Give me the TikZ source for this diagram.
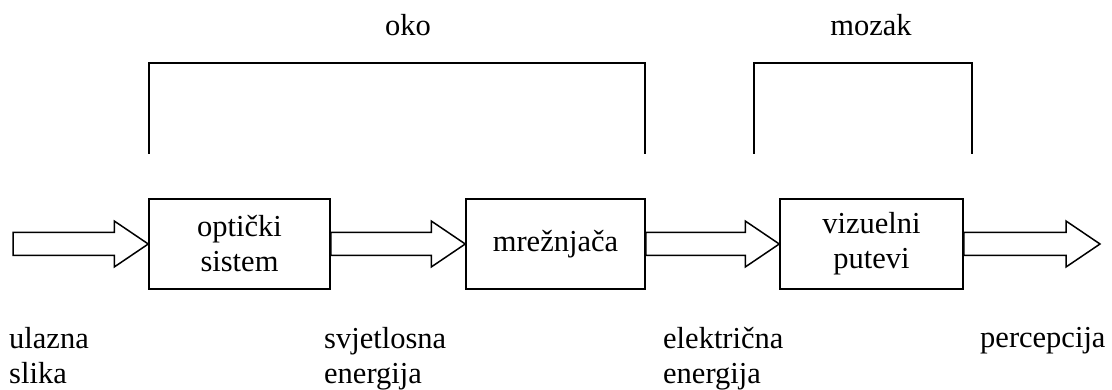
\documentclass[tikz,border=0pt]{standalone}
\usepackage{fontspec}
\setmainfont{Liberation Serif}
\usetikzlibrary{calc}
\tikzset{
  blok/.style={draw,line width=1.5pt,inner sep=0pt,align=center,minimum height=90pt},
  oznaka/.style={inner sep=0pt,align=left,anchor=base west}
}
% debela strelica od #1 do #2
\newcommand\strelica[2]{%
  \draw[line width=1.5pt,line join=miter] let \p1=(#1), \p2=(#2) in
    (\x1,\y1+11.5pt) -- (\x2-34pt,\y1+11.5pt) -- (\x2-34pt,\y1+23pt) -- (\x2,\y1)
    -- (\x2-34pt,\y1-23pt) -- (\x2-34pt,\y1-11.5pt) -- (\x1,\y1-11.5pt) -- cycle;}
\begin{document}
\begin{tikzpicture}[x=1pt,y=-1pt,font=\fontsize{30.5pt}{35pt}\selectfont]
  \useasboundingbox (0,0) rectangle (1112,390);
  % blokovi
  \node[blok,minimum width=181pt] (opt) at (239.5,244) {optički\\sistem};
  \node[blok,minimum width=179pt] (mrez) at (555.5,244) {mrežnjača};
  \node[blok,minimum width=183pt] (viz) at (871.5,244) {vizuelni\\putevi};
  \coordinate (ulaz) at (13,244);
  \coordinate (izlaz) at (1100,244);
  % strelice
  \strelica{ulaz}{opt.west}
  \strelica{opt.east}{mrez.west}
  \strelica{mrez.east}{viz.west}
  \strelica{viz.east}{izlaz}
  % zagrade
  \draw[line width=1.5pt] (149,154) |- (645,63) -- (645,154);
  \draw[line width=1.5pt] (754,154) |- (972,63) -- (972,154);
  \node (oko) at (408,25) {oko};
  \node (mozak) at (871,25) {mozak};
  % oznake ispod (base = zadnji red)
  \node[oznaka] (slika) at (9,383) {ulazna\\slika};
  \node[oznaka] (svj) at (324,383) {svjetlosna\\energija};
  \node[oznaka] (el) at (663,383) {električna\\energija};
  \node[oznaka] (perc) at (980,348) {percepcija};
\end{tikzpicture}
\end{document}
